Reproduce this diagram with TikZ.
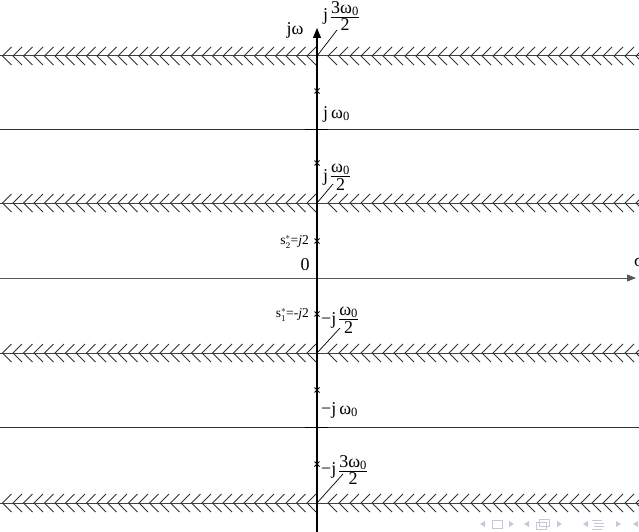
\documentclass[tikz,border=0pt]{standalone}
\usepackage{fontspec}
\setmainfont{Liberation Serif}
\usetikzlibrary{arrows.meta,calc}

\definecolor{navgray}{RGB}{196,200,222}
% stacked fraction in text font
\newcommand{\hfr}[2]{\ensuremath{\vcenter{\offinterlineskip
  \halign{\hfil##\hfil\cr #1\cr
    \noalign{\kern1pt\hrule height0.6pt\kern1.5pt}
    #2\cr}}}}

\tikzset{
  axisline/.style={line width=1.1pt, black},
  realaxis/.style={line width=1pt, black!65},
  wallline/.style={line width=1pt, black!75},
  plainline/.style={line width=0.9pt, black!80},
  chevron/.style={line width=0.8pt, black!80},
  polemark/.style={line width=0.8pt, black},
  lbl/.style={inner sep=0pt, font=\fontsize{18}{21}\selectfont},
  smalllbl/.style={inner sep=0pt, font=\fontsize{13.5}{16}\selectfont},
}

\begin{document}
\begin{tikzpicture}[x=1pt,y=-1pt]
\useasboundingbox (0,0) rectangle (639,532);

% boundary lines at +-w0/2 and +-3w0/2
\foreach \yy in {56,203,353,503} {
    \draw[wallline] (0,\yy) -- (639,\yy);
    \foreach \xx in {307,296.5,...,0}
        \draw[chevron] (\xx+9,\yy-9) -- (\xx,\yy) -- (\xx+9,\yy+9);
    \foreach \xx in {328,339,...,640}
        \draw[chevron] (\xx+9,\yy-9) -- (\xx,\yy) -- (\xx+9,\yy+9);
}
% lines at +-w0
\foreach \yy in {129,427} {
    \draw[plainline] (0,\yy) -- (639,\yy);
    \draw[line width=1pt, black] (305,\yy) -- (328,\yy);
}

% axes
\draw[realaxis,-{Triangle[length=9pt,width=7pt]}] (0,278) -- (636,278);
\node[lbl] (sigma) at (639,262) {σ};
\draw[axisline,-{Triangle[length=10pt,width=8pt]}] (317,532) -- (317,28);
\node[lbl] (jw) at (295,30) {jω};
\node[lbl] (zero) at (305,265) {0};

% poles
\foreach \yy in {91,163,241,314,390,464}
    \draw[polemark] (314.5,\yy-2.5) -- (319.5,\yy+2.5) (314.5,\yy+2.5) -- (319.5,\yy-2.5);

\node[smalllbl,anchor=east] (s2) at (309,242) {s$^{*}_{2}$=\textit{j}2};
\node[smalllbl,anchor=east] (s1) at (309,315) {s$^{*}_{1}$=-\textit{j}2};

% labels on the j axis
\node[lbl,anchor=west] (p3) at (323,16) {j\,\hfr{3ω\textsubscript{0}}{2}};
\node[lbl,anchor=west] (p2) at (323,114) {j\,ω\textsubscript{0}};
\node[lbl,anchor=west] (p1) at (323,177) {j\,\hfr{ω\textsubscript{0}}{2}};
\node[lbl,anchor=west] (m1) at (321,320) {−j\,\hfr{ω\textsubscript{0}}{2}};
\node[lbl,anchor=west] (m2) at (321,410) {−j\,ω\textsubscript{0}};
\node[lbl,anchor=west] (m3) at (321,470) {−j\,\hfr{3ω\textsubscript{0}}{2}};

\coordinate (c3) at (317,56);
\coordinate (c1) at (317,203);
\coordinate (d1) at (317,353);
\coordinate (d3) at (317,503);
\draw[line width=0.7pt] (c3) -- (337,30);
\draw[line width=0.7pt] (c1) -- (333,184);
\draw[line width=0.7pt] (d1) -- (340,328);
\draw[line width=0.7pt] (d3) -- (343,474);

% navigation symbols
\begin{scope}[navgray, line width=0.6pt]
\fill (480,524) -- (485,521) -- (485,527) -- cycle;
\draw (492,520) rectangle (502,528);
\fill (514,524) -- (509,521) -- (509,527) -- cycle;
\fill (524,524) -- (529,521) -- (529,527) -- cycle;
\draw (536,522) rectangle (546,529) (539,519) rectangle (549,526);
\fill (562,524) -- (557,521) -- (557,527) -- cycle;
\fill (583,524) -- (588,521) -- (588,527) -- cycle;
\draw (592,520) -- (602,520) (594,523) -- (604,523) (594,526) -- (604,526) (592,529) -- (602,529);
\fill (621,524) -- (616,521) -- (616,527) -- cycle;
\fill (633,524) -- (638,521) -- (638,527) -- cycle;
\end{scope}

\end{tikzpicture}
\end{document}
